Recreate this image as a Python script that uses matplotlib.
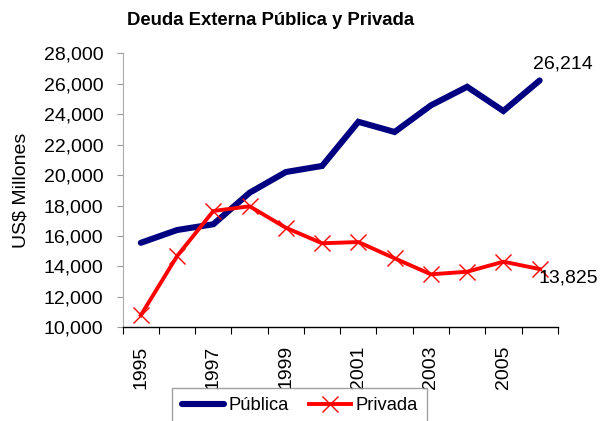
import matplotlib
matplotlib.use("Agg")
import matplotlib.pyplot as plt
from matplotlib.ticker import FuncFormatter, FixedLocator

years = [1995, 1996, 1997, 1998, 1999, 2000, 2001, 2002, 2003, 2004, 2005, 2006]
publica = [15550, 16390, 16770, 18840, 20200, 20600, 23500, 22830, 24580, 25800, 24210, 26214]
privada = [10790, 14680, 17640, 17950, 16540, 15520, 15600, 14530, 13480, 13650, 14310, 13825]
yticks = [10000, 12000, 14000, 16000, 18000, 20000, 22000, 24000, 26000, 28000]
title = "Deuda Externa Pública y Privada"
ylabel = "US$ Millones"

plt.rcParams['font.family'] = ['Liberation Sans', 'DejaVu Sans']

fig = plt.figure(figsize=(6.03, 4.21), dpi=100)
ax = fig.add_axes([0.2035, 0.2226, 0.7215, 0.6508])

x = list(range(len(years)))
ax.plot(x, publica, color='#000080', lw=4.4, solid_capstyle='round',
        solid_joinstyle='miter', label='Pública')
ax.plot(x, privada, color='#FF0000', lw=2.8, marker='x', markersize=11,
        markeredgewidth=1.0, label='Privada')

ax.set_xlim(-0.5, len(years) - 0.5)
ax.set_ylim(10000, 28000)
ax.set_yticks(yticks)
ax.yaxis.set_major_formatter(FuncFormatter(lambda v, p: f"{int(v):,}"))
ax.tick_params(axis='y', labelsize=14, length=4, color='#999999', width=0.8, pad=10)

ax.xaxis.set_major_locator(FixedLocator([i for i in x if i % 2 == 0]))
ax.set_xticklabels([str(years[i]) for i in x if i % 2 == 0], rotation=90, fontsize=14)
ax.tick_params(axis='x', which='major', length=0, pad=13)
ax.xaxis.set_minor_locator(FixedLocator([i - 0.5 for i in range(len(years) + 1)]))
ax.tick_params(axis='x', which='minor', length=5, color='#000000', width=0.8, direction='out')

for s in ['top', 'right']:
    ax.spines[s].set_visible(False)
ax.spines['left'].set_color('#aaaaaa')
ax.spines['bottom'].set_color('#000000')
ax.spines['bottom'].set_linewidth(1.0)

ax.text(x[-1] - 0.17, publica[-1] + 500, f"{publica[-1]:,}", fontsize=14,
        ha='left', va='bottom')
ax.text(x[-1] - 0.02, privada[-1] - 600, f"{privada[-1]:,}", fontsize=14,
        ha='left', va='center')

ax.set_ylabel(ylabel, fontsize=14)
ax.yaxis.set_label_coords(-0.215, 0.5)
fig.text(0.449, 0.952, title, fontsize=13.3, fontweight='bold', ha='center', va='center')

fig.legend(loc='upper center', bbox_to_anchor=(0.497, 0.078), ncol=2, fontsize=13.2,
           frameon=True, fancybox=False, edgecolor='#888888', handlelength=2.3,
           columnspacing=1.1, borderpad=0.5, handletextpad=0.25, borderaxespad=0)

fig.savefig("out.png", dpi=100)
